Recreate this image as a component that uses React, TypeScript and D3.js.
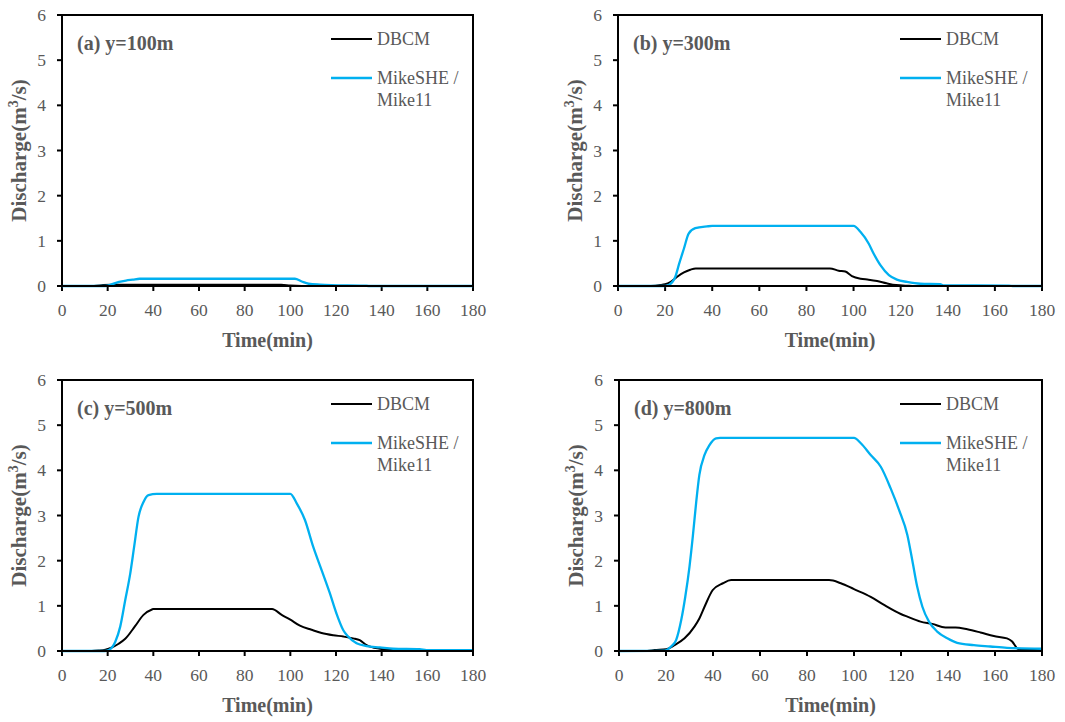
import * as d3 from "d3";

// time (min) / discharge (m3/s) pairs
const dbcmA: [number, number][] = [[0,0],[14,0],[18,0.02],[22,0.03],[30,0.03],[96,0.03],[100,0.01],[105,0],[180,0]];
const mikeA: [number, number][] = [[0,0],[19,0],[22,0.04],[25,0.09],[28,0.12],[31,0.14],[34,0.16],[102,0.16],[105,0.1],[108,0.05],[113,0.03],[118,0.02],[132,0.01],[135,0],[180,0]];

const dbcmB: [number, number][] = [[0,0],[14,0],[18,0.02],[20,0.04],[22,0.08],[25,0.2],[28,0.3],[30.7,0.36],[33,0.39],[90,0.39],[93.7,0.34],[96.5,0.32],[99.3,0.22],[103,0.16],[106.4,0.14],[110,0.11],[114,0.06],[118,0.02],[123,0.005],[126,0],[180,0]];
const mikeB: [number, number][] = [[0,0],[20,0],[21.5,0.02],[24.3,0.2],[26,0.5],[28,0.83],[30,1.16],[32.8,1.28],[37.8,1.32],[40,1.33],[100,1.33],[102.9,1.2],[106.4,0.94],[108.5,0.72],[111.4,0.46],[115,0.24],[118.4,0.14],[122.7,0.09],[128.3,0.05],[136.8,0.04],[138,0.015],[166,0.01],[168,0],[180,0]];

const dbcmC: [number, number][] = [[0,0],[13,0],[16,0.01],[19,0.03],[21.9,0.08],[24.8,0.16],[27.7,0.27],[32,0.55],[35.7,0.8],[39.4,0.92],[40,0.93],[92,0.93],[96.2,0.8],[99.8,0.7],[104.2,0.56],[109.3,0.47],[113.7,0.4],[118.8,0.35],[123.2,0.32],[127.5,0.28],[130.4,0.24],[133.4,0.13],[139.2,0.05],[145,0.02],[150,0],[180,0]];
const mikeC: [number, number][] = [[0,0],[19,0],[20.5,0.02],[23.3,0.2],[25.5,0.54],[27.7,1.13],[29.9,1.72],[31.6,2.31],[33.5,2.97],[35.7,3.3],[37.9,3.45],[41.5,3.48],[100,3.48],[102.8,3.27],[106.4,2.9],[110,2.31],[113.7,1.79],[117.3,1.28],[120.2,0.83],[123.2,0.46],[125.3,0.32],[129,0.17],[133.4,0.11],[139.2,0.08],[145,0.05],[156.7,0.04],[159.6,0.02],[180,0.02]];

const dbcmD: [number, number][] = [[0,0],[12,0],[15.1,0.02],[20.1,0.04],[23.6,0.13],[27.9,0.28],[32.1,0.54],[34.2,0.72],[36.4,0.98],[39.9,1.35],[44.2,1.5],[47.7,1.57],[89.4,1.57],[94.4,1.5],[100,1.37],[107.1,1.2],[112.8,1.02],[119.9,0.82],[122.7,0.76],[128.3,0.65],[133.3,0.6],[138.9,0.52],[143.2,0.52],[148.2,0.48],[153.8,0.41],[159.5,0.33],[165.1,0.28],[167.3,0.21],[169.4,0.06],[170.8,0.02],[180,0.02]];
const mikeD: [number, number][] = [[0,0],[19.4,0.01],[22.2,0.1],[24.3,0.24],[26.5,0.69],[28.2,1.2],[30,1.87],[31.4,2.53],[32.8,3.27],[34.2,3.9],[36.4,4.34],[38.5,4.56],[41.3,4.71],[43,4.72],[100,4.72],[102.9,4.6],[107.1,4.34],[111.4,4.08],[115.6,3.6],[119.2,3.12],[122.7,2.57],[124.8,2.01],[126.9,1.42],[129.1,0.98],[131.9,0.65],[135.4,0.43],[139.7,0.28],[143.9,0.18],[151,0.13],[158,0.1],[165.1,0.07],[180,0.05]];

const xTicks = [0, 20, 40, 60, 80, 100, 120, 140, 160, 180];
const yTicks = [0, 1, 2, 3, 4, 5, 6];
const panelLabels = ["(a) y=100m", "(b) y=300m", "(c) y=500m", "(d) y=800m"];
const seriesNames = ["DBCM", "MikeSHE /", "Mike11"];

const BLUE = "#00b0f0";
const GREY = "#595959";
const serif = { fontFamily: "'Liberation Serif', 'DejaVu Serif', serif" };

type PanelProps = {
  left: number; right: number; top: number; bottom: number;
  label: string; dbcm: [number, number][]; mike: [number, number][];
};

function Panel({ left, right, top, bottom, label, dbcm, mike }: PanelProps) {
  const x = d3.scaleLinear().domain([0, 180]).range([left, right]);
  const y = d3.scaleLinear().domain([0, 6]).range([bottom, top]);
  const line = d3.line<[number, number]>().x(d => x(d[0])).y(d => y(d[1])).curve(d3.curveMonotoneX);
  const midX = (left + right) / 2;
  const midY = (top + bottom) / 2;
  const legX = right - 142;

  return (
    <g>
      {/* ticks */}
      {yTicks.map(t => (
        <g key={"y" + t}>
          <line x1={left - 5} x2={left} y1={y(t)} y2={y(t)} stroke="#000" strokeWidth={2} />
          <text x={left - 16} y={y(t)} dy="0.35em" textAnchor="end" fontSize={17.5} fill={GREY} style={serif}>{t}</text>
        </g>
      ))}
      {xTicks.map(t => (
        <g key={"x" + t}>
          <line x1={x(t)} x2={x(t)} y1={bottom} y2={bottom + 5} stroke="#000" strokeWidth={2} />
          <text x={x(t)} y={bottom + 30} textAnchor="middle" fontSize={17.5} fill={GREY} style={serif}>{t}</text>
        </g>
      ))}

      <path d={line(dbcm) ?? ""} fill="none" stroke="#000" strokeWidth={2} />
      <path d={line(mike) ?? ""} fill="none" stroke={BLUE} strokeWidth={2.3} />

      <rect x={left} y={top} width={right - left} height={bottom - top} fill="none" stroke="#000" strokeWidth={2} />

      <text x={left + 15} y={top + 35} fontSize={20} fontWeight="bold" fill={GREY} style={serif}>{label}</text>

      {/* legend */}
      <line x1={legX} x2={legX + 41} y1={top + 24} y2={top + 24} stroke="#000" strokeWidth={2} />
      <text x={legX + 46} y={top + 24} dy="0.35em" fontSize={18} fill={GREY} style={serif}>{seriesNames[0]}</text>
      <line x1={legX} x2={legX + 41} y1={top + 63} y2={top + 63} stroke={BLUE} strokeWidth={2.3} />
      <text x={legX + 46} y={top + 63} dy="0.35em" fontSize={18} fill={GREY} style={serif}>{seriesNames[1]}</text>
      <text x={legX + 46} y={top + 85} dy="0.35em" fontSize={18} fill={GREY} style={serif}>{seriesNames[2]}</text>

      {/* axis titles */}
      <text x={midX} y={bottom + 61} textAnchor="middle" fontSize={20} fontWeight="bold" fill={GREY} style={serif}>Time(min)</text>
      <text transform={`translate(${left - 36},${midY}) rotate(-90)`} textAnchor="middle" fontSize={21} fontWeight="bold" fill={GREY} style={serif}>
        Discharge(m<tspan fontSize={14} dy={-8}>3</tspan><tspan dy={8}>/s)</tspan>
      </text>
    </g>
  );
}

export default function App() {
  return (
    <svg width={1065} height={722} style={{ position: "absolute", left: 0, top: 0, background: "#fff" }}>
      <rect width={1065} height={722} fill="#fff" />
      <Panel left={62} right={473} top={15} bottom={286} label={panelLabels[0]} dbcm={dbcmA} mike={mikeA} />
      <Panel left={618} right={1042} top={15} bottom={286} label={panelLabels[1]} dbcm={dbcmB} mike={mikeB} />
      <Panel left={62} right={473} top={380} bottom={651} label={panelLabels[2]} dbcm={dbcmC} mike={mikeC} />
      <Panel left={619} right={1042} top={380} bottom={651} label={panelLabels[3]} dbcm={dbcmD} mike={mikeD} />
    </svg>
  );
}
